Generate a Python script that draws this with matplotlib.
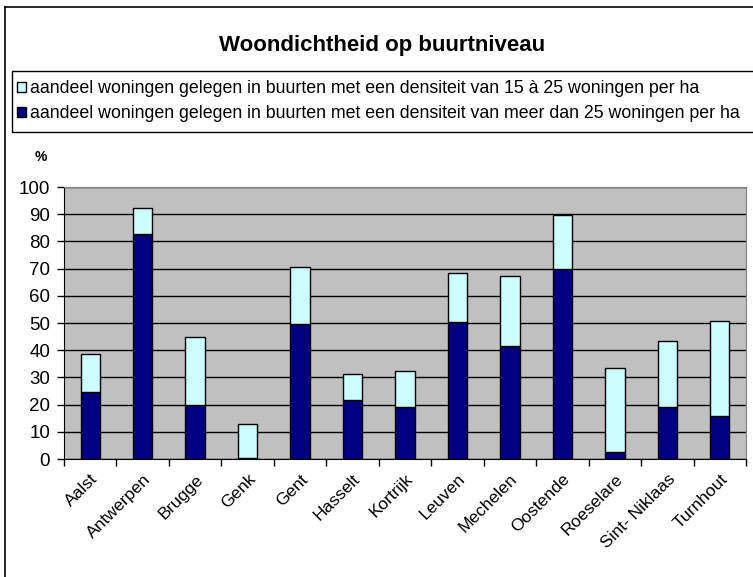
import matplotlib
matplotlib.use('Agg')
import matplotlib.pyplot as plt
from matplotlib.lines import Line2D
from matplotlib.patches import Patch, Rectangle
import numpy as np

plt.rcParams['font.family'] = ['Liberation Sans', 'DejaVu Sans']

# ── Data ──────────────────────────────────────────────────────────────────────
gemeenten = ['Aalst', 'Antwerpen', 'Brugge', 'Genk', 'Gent', 'Hasselt', 'Kortrijk',
             'Leuven', 'Mechelen', 'Oostende', 'Roeselare', 'Sint- Niklaas', 'Turnhout']
meer_dan_25 = [24.7, 82.8, 19.8, 0.4, 49.6, 21.7, 19.0, 50.3, 41.5, 69.9, 2.5, 19.0, 15.7]
totaal = [38.7, 92.1, 44.8, 12.9, 70.6, 31.3, 32.5, 68.5, 67.1, 89.6, 33.5, 43.3, 50.9]
tussen_15_25 = [t - m for t, m in zip(totaal, meer_dan_25)]

label_15_25 = 'aandeel woningen gelegen in buurten met een densiteit van 15 à 25 woningen per ha'
label_25 = 'aandeel woningen gelegen in buurten met een densiteit van meer dan 25 woningen per ha'

DARK = '#000080'
LIGHT = '#ccffff'
W, H = 753, 577

fig = plt.figure(figsize=(W / 100, H / 100), dpi=100)
ax = fig.add_axes([64 / W, 1 - 459 / H, (746 - 64) / W, (459 - 187) / H])

x = np.arange(len(gemeenten))
ax.bar(x, meer_dan_25, width=0.37, color=DARK, edgecolor='black', lw=1, zorder=3)
ax.bar(x, tussen_15_25, bottom=meer_dan_25, width=0.37, color=LIGHT,
       edgecolor='black', lw=1, zorder=3)

ax.set_facecolor('#c0c0c0')
ax.set_xlim(-0.5, len(gemeenten) - 0.5)
ax.set_ylim(0, 100)
ax.set_yticks(range(0, 101, 10))
ax.yaxis.grid(True, color='black', lw=1, zorder=1)
ax.set_axisbelow(True)

# category ticks at the boundaries, labels at the centres
ax.set_xticks(np.arange(-0.5, len(gemeenten), 1.0))
ax.set_xticklabels([])
ax.set_xticks(x, minor=True)
ax.set_xticklabels(gemeenten, minor=True, rotation=45, ha='right',
                   rotation_mode='anchor', fontsize=12.5)
ax.tick_params(axis='x', which='minor', length=0, pad=9)
ax.tick_params(axis='x', which='major', length=5, width=1, direction='out')
ax.tick_params(axis='y', length=5, width=1, direction='out', labelsize=13.5, pad=5)

for side in ('top', 'right'):
    ax.spines[side].set_color('#808080')
for side in ('left', 'bottom'):
    ax.spines[side].set_color('black')

fig.text(41 / W, 1 - 157 / H, '%', fontsize=10, fontweight='bold',
         ha='center', va='center')
fig.text(382 / W, 1 - 46 / H, 'Woondichtheid op buurtniveau', fontsize=16,
         fontweight='bold', ha='center', va='center')

# legend box runs off the right edge, as in the original
fig.add_artist(Rectangle((12 / W, 1 - 132 / H), 1.0, 61 / H, transform=fig.transFigure,
                         facecolor='white', edgecolor='black', lw=1, zorder=1))
handles = [Patch(facecolor=LIGHT, edgecolor='black', lw=1),
           Patch(facecolor=DARK, edgecolor='black', lw=1)]
leg = fig.legend(handles, [label_15_25, label_25], loc='upper left',
                 bbox_to_anchor=(8 / W, 1 - 71 / H), borderaxespad=0,
                 frameon=False, fontsize=12.8,
                 handlelength=0.5, handleheight=0.5, handletextpad=0.25,
                 borderpad=0.5, labelspacing=0.45)
leg.set_zorder(2)

# outer chart border (left and top visible)
fig.add_artist(Line2D([5 / W, 5 / W], [0, 1 - 7 / H], color='black', lw=1.2))
fig.add_artist(Line2D([5 / W, 1], [1 - 7 / H, 1 - 7 / H], color='black', lw=1.2))

fig.savefig('out.png', dpi=100)
